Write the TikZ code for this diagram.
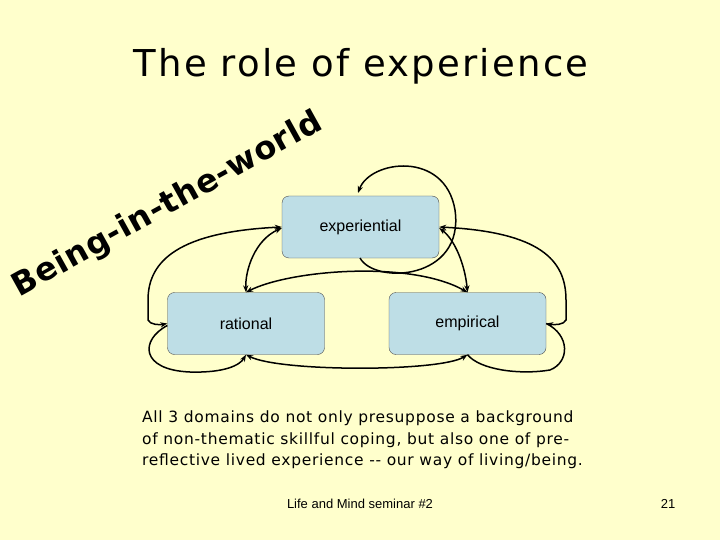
\documentclass[tikz,border=0pt]{standalone}
\usepackage{fontspec}
\setmainfont{Liberation Sans}
\newfontfamily\comicsp[LetterSpace=6]{DejaVu Sans}
\newfontfamily\comicbiw[LetterSpace=2]{DejaVu Sans}
\newfontfamily\comicbody[LetterSpace=4.5]{DejaVu Sans}
\usetikzlibrary{arrows.meta}
\definecolor{bg}{RGB}{255,255,204}
\definecolor{boxc}{RGB}{190,222,230}
\begin{document}
\begin{tikzpicture}[x=1pt,y=-1pt,
  box/.style={draw=black!70,fill=boxc,rounded corners=7pt,minimum width=157pt,minimum height=62pt,inner sep=0pt,font=\fontsize{16}{18}\selectfont},
  con/.style={line width=1.5pt,-{Stealth[length=7pt]}},
  bi/.style={line width=1.5pt,{Stealth[length=7pt]}-{Stealth[length=7pt]}}]
\fill[bg] (0,0) rectangle (720,540);
\useasboundingbox (0,0) rectangle (720,540);
\node[anchor=center,font=\comicsp\fontsize{37}{40}\selectfont] (title) at (361,66) {The role of experience};
\node[rotate=29,font=\comicbiw\bfseries\fontsize{32}{34}\selectfont] (biw) at (168,205) {Being-in-the-world};
\node[box] (exp) at (360.5,227) {experiential};
\node[box] (rat) at (246,323.5) {rational};
\node[box] (emp) at (467.5,323.5) {empirical};
\coordinate (e1) at (360,258);
\coordinate (e2) at (358,193);
\draw[con] (e1) .. controls (375,285) and (465,280) .. (455,210) .. controls (445,150) and (370,160) .. (e2);
\draw[bi] (exp.west) .. controls (180,232) and (148,260) .. (148,300) -- (148,320) .. controls (150,325) and (160,325) .. (rat.west);
\draw[bi] (exp.east) .. controls (540,232) and (566,260) .. (566,300) -- (566,320) .. controls (564,325) and (554,325) .. (emp.east);
\draw[con] (rat.west) ++(0,2) .. controls (140,340) and (140,370) .. (190,372) .. controls (225,373) and (240,365) .. (rat.south);
\draw[line width=1.5pt] (emp.south) .. controls (480,370) and (520,375) .. (550,370) .. controls (570,362) and (570,335) .. (emp.east);
\draw[bi] (rat.south) .. controls (280,372) and (440,372) .. (emp.south);
\draw[bi] (exp.west) ++(0,1) .. controls (255,240) and (245,270) .. (rat.north);
\draw[bi] (exp.east) ++(0,1) .. controls (455,240) and (465,265) .. (emp.north);
\draw[bi] (rat.north) .. controls (290,270) and (410,260) .. (emp.north);
\node[anchor=north west,align=left,font=\comicbody\fontsize{15.5}{21.5}\selectfont,inner sep=0pt] (body) at (142,411) {All 3 domains do not only presuppose a background\\of non-thematic skillful coping, but also one of pre-\\reflective lived experience -- our way of living/being.};
\node[font=\fontsize{13}{15}\selectfont] (foot) at (360,504) {Life and Mind seminar \#2};
\node[font=\fontsize{13}{15}\selectfont] (num) at (668,504) {21};
\end{tikzpicture}
\end{document}
